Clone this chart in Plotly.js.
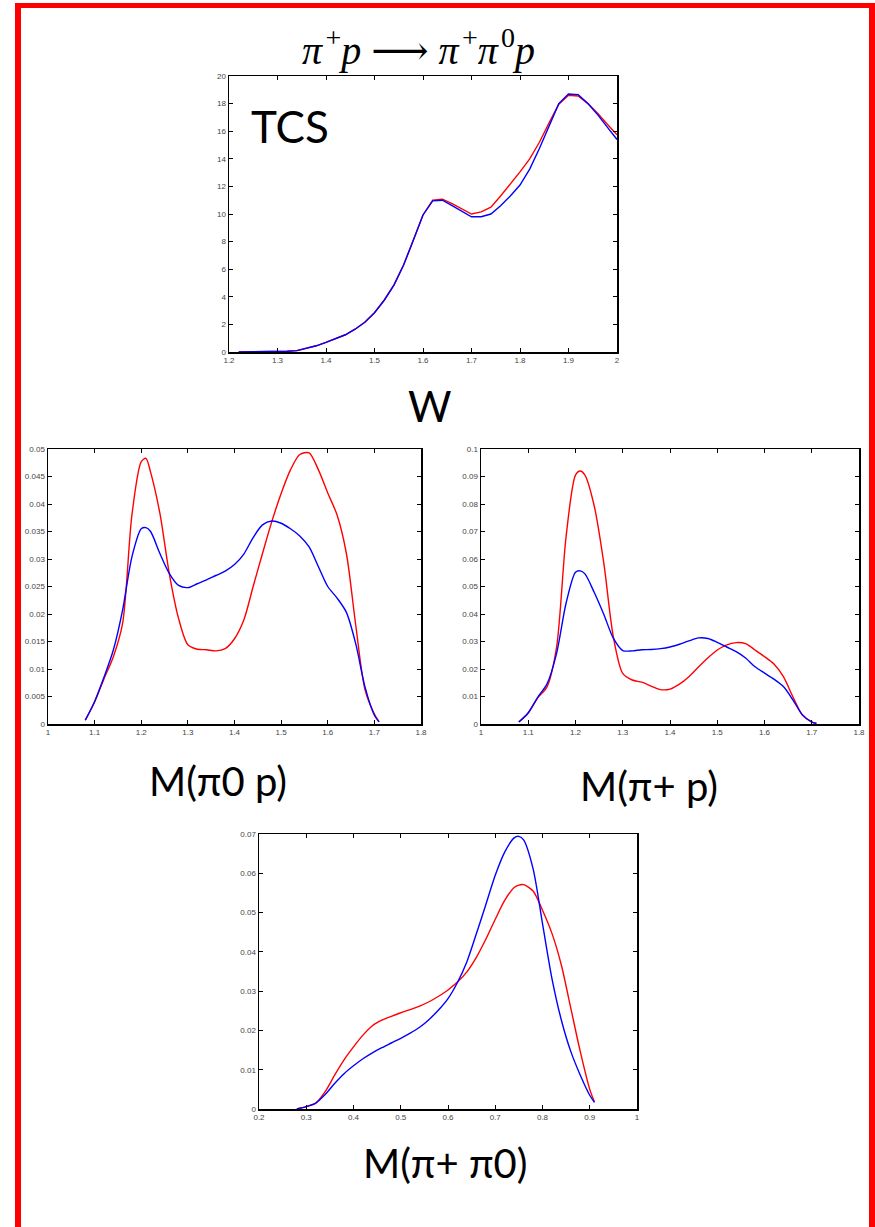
<!DOCTYPE html>
<html>
<head>
<meta charset="utf-8">
<script src="https://cdn.plot.ly/plotly-3.0.1.min.js"></script>
<style>html,body{margin:0;padding:0;background:#fff;}#plot{width:875px;height:1227px;}</style>
</head>
<body>
<div id="plot"></div>
<script>
// ---- Data: total cross section vs W ----
const wW = [1.22,1.24,1.26,1.28,1.30,1.32,1.34,1.36,1.38,1.40,1.42,1.44,1.46,1.48,1.50,1.52,1.54,1.56,1.58,1.60,1.62,1.64,1.66,1.68,1.70,1.72,1.74,1.76,1.78,1.80,1.82,1.84,1.86,1.88,1.90,1.92,1.94,1.96,1.98,2.00];
const tcsBlue = [0,0,0,0,0.02,0.05,0.1,0.25,0.45,0.7,0.95,1.25,1.65,2.15,2.85,3.75,4.85,6.3,8.1,9.93,10.95,11.0,10.6,10.2,9.8,9.8,10.0,10.6,11.3,12.1,13.25,14.75,16.4,18.0,18.7,18.65,18.0,17.2,16.3,15.4];
const tcsRed  = [0,0,0,0,0.02,0.05,0.1,0.25,0.45,0.7,0.95,1.25,1.65,2.15,2.85,3.75,4.85,6.3,8.1,9.93,11.0,11.08,10.75,10.4,10.0,10.15,10.5,11.3,12.15,13.05,14.0,15.2,16.6,17.95,18.6,18.55,18.0,17.3,16.5,15.75];

// ---- M(pi0 p) ----
const m0p = [1.08,1.10,1.12,1.14,1.16,1.18,1.20,1.21,1.22,1.24,1.26,1.28,1.30,1.32,1.34,1.36,1.38,1.40,1.42,1.44,1.46,1.48,1.50,1.52,1.54,1.56,1.58,1.60,1.62,1.64,1.66,1.68,1.70,1.71];
const m0pBlue = [0.0007,0.0041,0.0085,0.0134,0.0207,0.0304,0.0355,0.0357,0.035,0.031,0.0274,0.0252,0.0248,0.0255,0.0262,0.027,0.0278,0.029,0.0309,0.0339,0.0362,0.0369,0.0365,0.0355,0.0342,0.0322,0.0286,0.025,0.0229,0.0203,0.0146,0.0067,0.0016,0.0004];
const m0pRed  = [0.0007,0.004,0.0082,0.0122,0.0183,0.038,0.0477,0.0483,0.0458,0.0383,0.0274,0.0192,0.0144,0.0136,0.0135,0.0133,0.0137,0.0155,0.0189,0.025,0.031,0.0368,0.0419,0.0462,0.049,0.0493,0.0462,0.042,0.038,0.031,0.018,0.0062,0.0018,0.0004];

// ---- M(pi+ p) ----
const mpp = [1.08,1.10,1.12,1.14,1.16,1.18,1.20,1.21,1.22,1.24,1.26,1.28,1.30,1.32,1.34,1.36,1.38,1.40,1.42,1.44,1.46,1.48,1.50,1.52,1.54,1.56,1.58,1.60,1.62,1.64,1.66,1.68,1.70,1.71];
const mppBlue = [0.0007,0.0041,0.0097,0.0147,0.0257,0.0439,0.0552,0.0557,0.0546,0.0477,0.0398,0.0312,0.0267,0.0266,0.027,0.0271,0.0274,0.028,0.029,0.0302,0.0313,0.0311,0.0297,0.028,0.0263,0.024,0.0208,0.0185,0.0163,0.0136,0.0088,0.0034,0.0007,0.0002];
const mppRed  = [0.0007,0.004,0.0095,0.0136,0.028,0.068,0.0905,0.092,0.0905,0.079,0.0584,0.0318,0.0184,0.016,0.0152,0.0138,0.0125,0.0127,0.0145,0.0172,0.0207,0.024,0.0269,0.0288,0.0296,0.0292,0.0269,0.0245,0.0218,0.0172,0.0099,0.0033,0.0008,0.0003];

// ---- M(pi+ pi0) ----
const mpi = [0.28,0.30,0.32,0.34,0.36,0.38,0.40,0.42,0.44,0.46,0.48,0.50,0.52,0.54,0.56,0.58,0.60,0.62,0.64,0.66,0.68,0.70,0.72,0.74,0.75,0.76,0.78,0.80,0.82,0.84,0.86,0.88,0.90,0.91];
const mpiBlue = [0,0.0006,0.0015,0.0037,0.0065,0.009,0.011,0.0128,0.0143,0.0156,0.0168,0.018,0.0193,0.0208,0.0228,0.0252,0.0281,0.0322,0.0375,0.0446,0.052,0.0595,0.0654,0.069,0.0694,0.0685,0.0612,0.0472,0.0332,0.0226,0.0146,0.0086,0.0035,0.0017];
const mpiRed  = [0,0.0006,0.0015,0.0044,0.0086,0.0125,0.0158,0.0188,0.0212,0.0226,0.0236,0.0245,0.0253,0.0262,0.0273,0.0287,0.0303,0.0323,0.0349,0.0386,0.0432,0.0483,0.0531,0.0564,0.0570,0.0571,0.0555,0.0506,0.0447,0.0366,0.0256,0.0146,0.005,0.0018];

// ---- labels ----
const titleText = '<i>π</i>\u200A<sup>+</sup><i>p</i> <span style="font-family:DejaVu Serif">⟶</span> <i>π</i>\u200A<sup>+</sup><i>π</i>\u200A<sup>0</sup><i>p</i>';
const panelLabels = ['TCS', 'W', 'M(π0 p)', 'M(π+ p)', 'M(π+ π0)'];

// ---- layout helpers (pixel -> paper) ----
const W = 875, H = 1227;
const px = v => v / W;
const py = v => 1 - v / H;

const RED = '#ff0000', BLUE = '#0000ff';
function tr(x, y, color, xa, ya, shape) {
  return {x: x, y: y, type: 'scatter', mode: 'lines', xaxis: xa, yaxis: ya,
          line: {color: color, width: 1.4, shape: shape, smoothing: 0.8}, hoverinfo: 'skip'};
}
const data = [
  tr(wW, tcsRed, RED, 'x', 'y', 'linear'),
  tr(wW, tcsBlue, BLUE, 'x', 'y', 'linear'),
  tr(m0p, m0pRed, RED, 'x2', 'y2', 'spline'),
  tr(m0p, m0pBlue, BLUE, 'x2', 'y2', 'spline'),
  tr(mpp, mppRed, RED, 'x3', 'y3', 'spline'),
  tr(mpp, mppBlue, BLUE, 'x3', 'y3', 'spline'),
  tr(mpi, mpiRed, RED, 'x4', 'y4', 'spline'),
  tr(mpi, mpiBlue, BLUE, 'x4', 'y4', 'spline')
];

function ax(domain, range, dtick, anchor) {
  return {domain: domain, range: range, dtick: dtick, tick0: 0, anchor: anchor,
          showline: true, linecolor: '#000', linewidth: 1.5, mirror: 'allticks',
          ticks: 'inside', ticklen: 4, tickwidth: 1, tickcolor: '#000',
          showgrid: false, zeroline: false, fixedrange: true,
          tickfont: {family: 'Liberation Sans, Arial, sans-serif', size: 8, color: '#444'}};
}

const layout = {
  width: W, height: H,
  margin: {l: 0, r: 0, t: 0, b: 0},
  paper_bgcolor: '#fff', plot_bgcolor: '#fff',
  showlegend: false,
  xaxis:  ax([px(229), px(617)], [1.2, 2.0], 0.1, 'y'),
  yaxis:  ax([py(352), py(76)], [0, 20], 2, 'x'),
  xaxis2: ax([px(48), px(421)], [1.0, 1.8], 0.1, 'y2'),
  yaxis2: ax([py(724), py(449)], [0, 0.05], 0.005, 'x2'),
  xaxis3: ax([px(481), px(859)], [1.0, 1.8], 0.1, 'y3'),
  yaxis3: ax([py(724), py(449)], [0, 0.1], 0.01, 'x3'),
  xaxis4: ax([px(259), px(637)], [0.2, 1.0], 0.1, 'y4'),
  yaxis4: ax([py(1109), py(834)], [0, 0.07], 0.01, 'x4'),
  annotations: [
    {text: titleText, x: px(418), y: py(47), xref: 'paper', yref: 'paper', showarrow: false,
     xanchor: 'center', yanchor: 'middle', font: {family: 'Liberation Serif, Times New Roman, serif', size: 40, color: '#000'}},
    {text: panelLabels[0], x: px(290), y: py(126), xref: 'paper', yref: 'paper', showarrow: false,
     xanchor: 'center', yanchor: 'middle', font: {family: 'Lato, sans-serif', size: 44, color: '#000'}},
    {text: panelLabels[1], x: px(430), y: py(406), xref: 'paper', yref: 'paper', showarrow: false,
     xanchor: 'center', yanchor: 'middle', font: {family: 'Lato, sans-serif', size: 42, color: '#000'}},
    {text: panelLabels[2], x: px(218), y: py(781), xref: 'paper', yref: 'paper', showarrow: false,
     xanchor: 'center', yanchor: 'middle', font: {family: 'Lato, sans-serif', size: 40, color: '#000'}},
    {text: panelLabels[3], x: px(649), y: py(786), xref: 'paper', yref: 'paper', showarrow: false,
     xanchor: 'center', yanchor: 'middle', font: {family: 'Lato, sans-serif', size: 40, color: '#000'}},
    {text: panelLabels[4], x: px(445), y: py(1163), xref: 'paper', yref: 'paper', showarrow: false,
     xanchor: 'center', yanchor: 'middle', font: {family: 'Lato, sans-serif', size: 40, color: '#000'}}
  ],
  shapes: [
    {type: 'rect', xref: 'paper', yref: 'paper', x0: px(15), x1: px(21), y0: py(1227), y1: py(3), fillcolor: RED, line: {width: 0}},
    {type: 'rect', xref: 'paper', yref: 'paper', x0: px(15), x1: px(875), y0: py(8), y1: py(3), fillcolor: RED, line: {width: 0}},
    {type: 'rect', xref: 'paper', yref: 'paper', x0: px(869), x1: px(875), y0: py(1227), y1: py(3), fillcolor: RED, line: {width: 0}}
  ]
};

Plotly.newPlot('plot', data, layout, {displayModeBar: false, staticPlot: true});
</script>
</body>
</html>
